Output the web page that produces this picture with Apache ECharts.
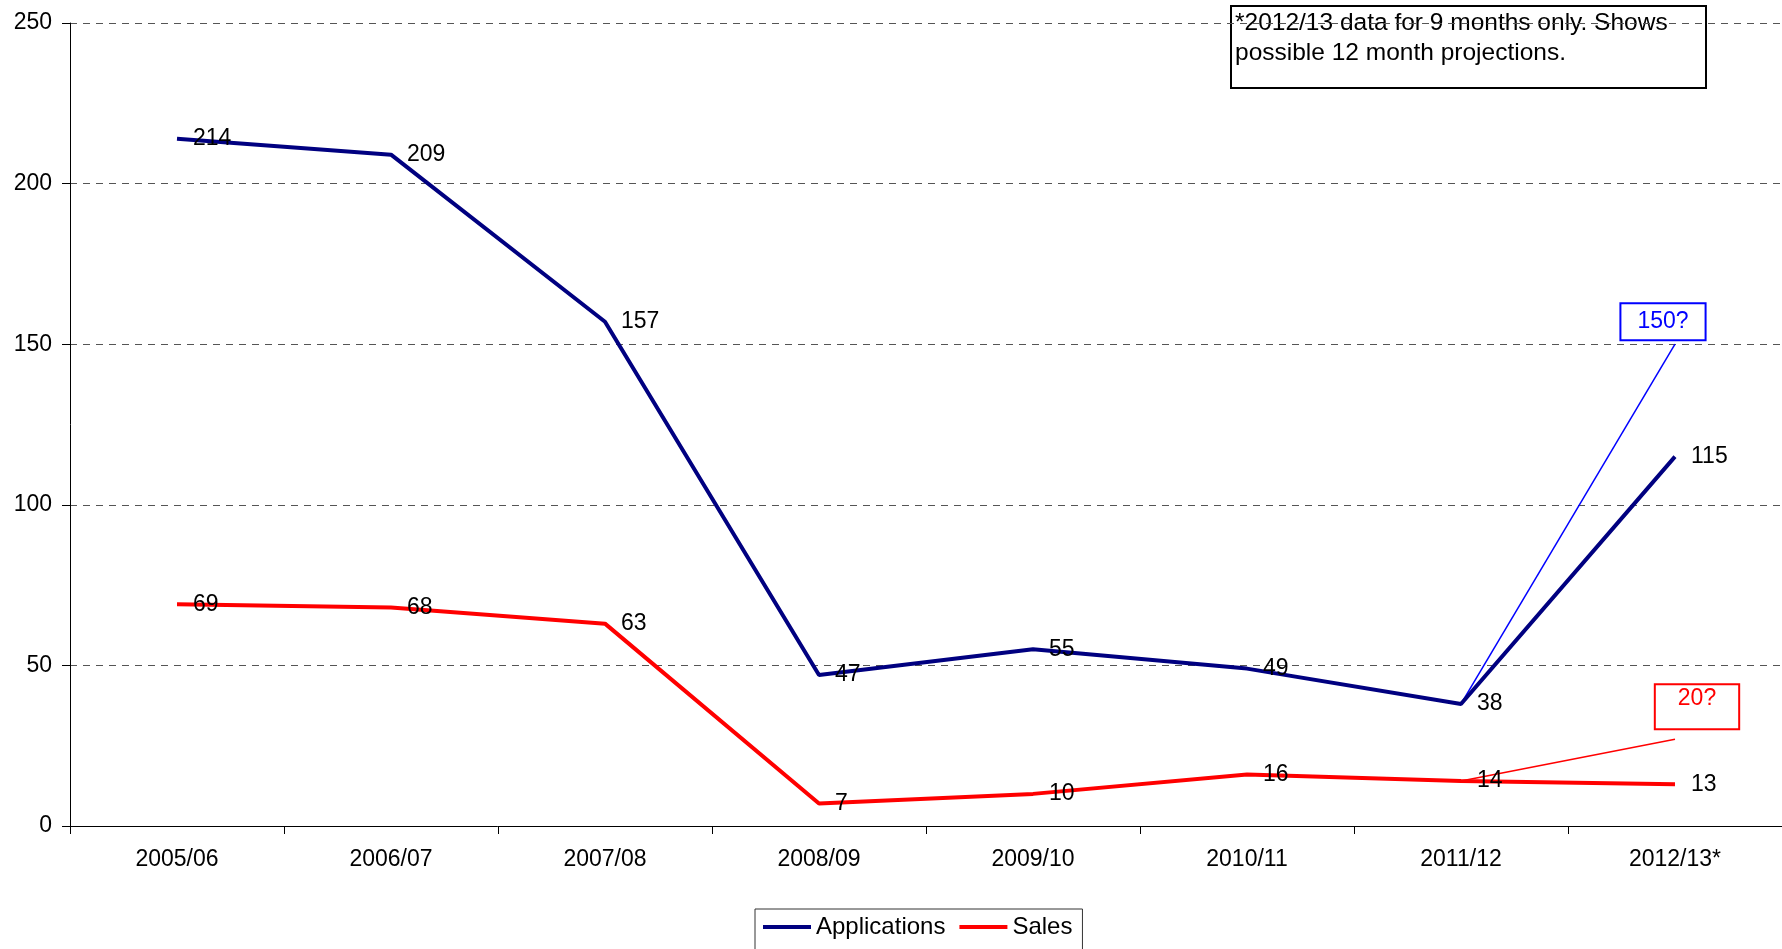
<!DOCTYPE html>
<html>
<head>
<meta charset="utf-8">
<script src="https://cdn.jsdelivr.net/npm/echarts@6/dist/echarts.min.js"></script>
<style>html,body{margin:0;padding:0;background:#fff}#c{width:1782px;height:949px}</style>
</head>
<body>
<div id="c"></div>
<script>
const categories = ['2005/06','2006/07','2007/08','2008/09','2009/10','2010/11','2011/12','2012/13*'];
const applications = [214, 209, 157, 47, 55, 49, 38, 115];
const sales = [69, 68, 63, 7, 10, 16, 14, 13];
const appProjection = [null, null, null, null, null, null, 38, 150];
const salesProjection = [null, null, null, null, null, null, 14, 27];
const appProjectionLabel = '150?';
const salesProjectionLabel = '20?';
const noteLines = ['*2012/13 data for 9 months only. Shows', 'possible 12 month projections.'];
const yTicks = [0, 50, 100, 150, 200, 250];

const FONT = 'Liberation Sans, Arial, sans-serif';
const chart = echarts.init(document.getElementById('c'));

function projData(values, labelText, labelStyle) {
  return values.map(function (v, i) {
    if (i === values.length - 1) {
      return { value: v, label: Object.assign({ show: true, formatter: labelText }, labelStyle) };
    }
    return { value: v };
  });
}

chart.setOption({
  animation: false,
  textStyle: { fontFamily: FONT },
  grid: { left: 70, right: 0, top: 23, bottom: 123, containLabel: false },
  legend: {
    data: ['Applications', 'Sales'],
    left: 755, top: 909,
    borderColor: '#333', borderWidth: 1,
    padding: [6, 10, 30, 8],
    icon: 'rect', itemWidth: 48, itemHeight: 4, itemGap: 14,
    textStyle: { fontSize: 24, color: '#000', fontFamily: FONT }
  },
  xAxis: {
    type: 'category', data: categories, boundaryGap: true,
    axisLine: { lineStyle: { color: '#000', width: 1 } },
    axisTick: { show: true, length: 8, lineStyle: { color: '#000' } },
    axisLabel: { color: '#000', fontSize: 23, margin: 22, fontFamily: FONT }
  },
  yAxis: {
    type: 'value', min: yTicks[0], max: yTicks[yTicks.length - 1], interval: 50,
    axisLine: { show: true, lineStyle: { color: '#000', width: 1 } },
    axisTick: { show: true, length: 8, lineStyle: { color: '#000' } },
    axisLabel: { color: '#000', fontSize: 23, margin: 18, fontFamily: FONT },
    splitLine: { show: true, lineStyle: { color: '#555', type: [7, 6], width: 1 } }
  },
  series: [
    {
      name: 'AppProj', type: 'line', symbol: 'circle', symbolSize: 0, z: 1,
      data: projData(appProjection, appProjectionLabel, {
        position: 'top', distance: 5, offset: [-12, 0],
        color: '#0000FF', fontSize: 23, fontFamily: FONT,
        borderColor: '#0000FF', borderWidth: 2, padding: [6, 16, 6, 16], backgroundColor: '#fff'
      }),
      lineStyle: { color: '#0000FF', width: 1.5 }, itemStyle: { color: '#0000FF' },
      label: { show: false }
    },
    {
      name: 'SalesProj', type: 'line', symbol: 'circle', symbolSize: 0, z: 1,
      data: projData(salesProjection, salesProjectionLabel, {
        position: 'top', distance: 11, offset: [22, 0],
        color: '#FF0000', fontSize: 23, fontFamily: FONT,
        borderColor: '#FF0000', borderWidth: 2, padding: [2, 22, 18, 22], backgroundColor: '#fff'
      }),
      lineStyle: { color: '#FF0000', width: 1.5 }, itemStyle: { color: '#FF0000' },
      label: { show: false }
    },
    {
      name: 'Applications', type: 'line', data: applications, symbol: 'circle', symbolSize: 0, z: 3,
      lineStyle: { color: '#000080', width: 4 }, itemStyle: { color: '#000080' },
      label: { show: true, position: 'right', distance: 16, color: '#000', fontSize: 23, fontFamily: FONT }
    },
    {
      name: 'Sales', type: 'line', data: sales, symbol: 'circle', symbolSize: 0, z: 3,
      lineStyle: { color: '#FF0000', width: 4 }, itemStyle: { color: '#FF0000' },
      label: { show: true, position: 'right', distance: 16, color: '#000', fontSize: 23, fontFamily: FONT }
    }
  ],
  graphic: [
    {
      type: 'group', left: 1230, top: 5,
      children: [
        { type: 'rect', shape: { x: 0, y: 0, width: 475, height: 82 },
          style: { fill: '#fff', stroke: '#000', lineWidth: 2 } },
        { type: 'text', left: 4, top: 2,
          style: { text: noteLines.join('\n'), fontSize: 24.5, lineHeight: 30, fill: '#000', fontFamily: FONT } }
      ]
    }
  ]
});
</script>
</body>
</html>
